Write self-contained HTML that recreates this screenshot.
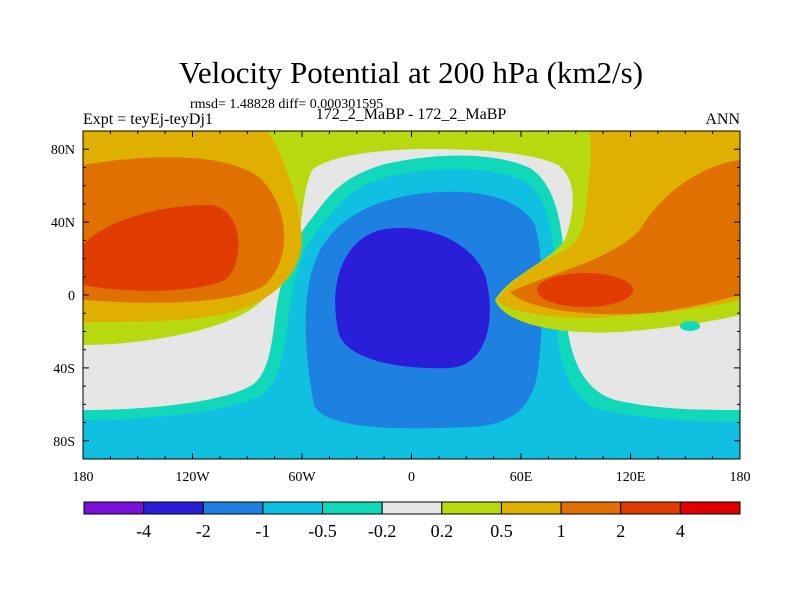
<!DOCTYPE html>
<html><head><meta charset="utf-8"><style>
body{margin:0;background:#fff}
svg text{font-family:"Liberation Serif",serif;fill:#000}
</style></head><body>
<svg id="c" width="800" height="600" xmlns="http://www.w3.org/2000/svg">
<defs><clipPath id="pc"><rect x="83" y="131" width="657" height="328"/></clipPath></defs>
<text x="411" y="83" font-size="31" text-anchor="middle">Velocity Potential at 200 hPa (km2/s)</text>
<text x="190" y="108" font-size="14">rmsd= 1.48828 diff= 0.000301595</text>
<text x="83" y="124" font-size="16">Expt = teyEj-teyDj1</text>
<text x="411" y="119" font-size="16" text-anchor="middle">172_2_MaBP - 172_2_MaBP</text>
<text x="740" y="124" font-size="16" text-anchor="end">ANN</text>
<g clip-path="url(#pc)">
<rect x="83" y="131" width="657" height="328" fill="#10c0e0"/>
<path fill="#10d8b8" d="M83,420 C150,420 230,412 262,395 C285,380 285,330 292,295 C298,260 308,240 322,225 C340,205 350,185 395,175 C450,165 500,168 525,182 C550,197 555,240 555,290 C555,340 560,395 600,410 C650,420 700,422 740,422 L740,131 L83,131 Z"/>
<path fill="#e6e6e6" d="M83,410 C150,410 225,402 252,385 C275,370 272,320 280,290 C287,255 298,235 312,218 C328,198 338,178 385,164 C440,152 495,152 530,168 C557,185 565,230 565,290 C565,340 575,388 615,400 C660,410 700,410 740,410 L740,131 L83,131 Z"/>
<path fill="#1e80e0" d="M314,405 C302,340 302,285 320,250 C340,215 380,195 440,192 C480,190 520,198 535,225 C545,260 543,330 538,370 C533,405 515,425 470,427 C400,430 325,430 314,405 Z"/>
<path fill="#2a1ed8" d="M338,330 C328,280 345,240 380,230 C420,222 470,238 485,275 C495,310 492,365 450,368 C400,370 343,360 338,330 Z"/>
<path fill="#b8d810" d="M83,131 L83,345 C130,345 210,335 250,310 C280,290 290,265 298,240 C303,215 303,190 312,170 C330,155 380,150 420,149 C480,149 530,152 558,165 C578,180 575,210 565,240 C545,265 510,275 495,300 C505,325 560,335 620,332 C670,328 710,322 740,315 L740,131 Z"/>
<path fill="#e0b000" d="M83,131 L268,131 C285,160 300,200 302,240 C302,275 270,305 220,315 C170,323 120,322 83,322 Z"/>
<path fill="#e0b000" d="M590,131 L740,131 L740,300 C700,310 640,315 590,318 C540,318 505,310 497,300 C510,280 540,262 565,250 C590,238 585,200 590,170 C592,150 590,140 590,131 Z"/>
<path fill="#e07000" d="M83,165 C140,155 230,150 262,180 C290,210 292,260 265,285 C235,305 150,305 83,300 Z"/>
<path fill="#e07000" d="M740,160 C700,165 660,195 640,230 C610,260 560,270 510,292 C530,312 600,318 660,312 C700,306 720,300 740,295 Z"/>
<path fill="#e03c00" d="M83,245 C100,225 150,205 210,205 C245,208 245,265 225,280 C190,295 120,292 83,285 Z"/>
<ellipse cx="585" cy="290" rx="48" ry="17" fill="#e03c00"/>
<ellipse cx="690" cy="326" rx="10" ry="5" fill="#10d8b8"/>
</g>
<rect x="83" y="131" width="657" height="328" fill="none" stroke="#000" stroke-width="1"/>
<g id="axes"></g>
<g id="cbar"></g>
</svg>
<script>
const lonTicks=[-180,-120,-60,0,60,120,180];
const lonLabels=["180","120W","60W","0","60E","120E","180"];
const latTicks=[80,40,0,-40,-80];
const latLabels=["80N","40N","0","40S","80S"];
const levels=["-4","-2","-1","-0.5","-0.2","0.2","0.5","1","2","4"];
const colors=["#7a10d8","#2a1ed8","#1e80e0","#10c0e0","#10d8b8","#e6e6e6","#b8d810","#e0b000","#e07000","#e03c00","#e00000"];
const NS="http://www.w3.org/2000/svg";
const X0=83,X1=740,Y0=131,Y1=459;
const xs=l=>X0+(l+180)/360*(X1-X0), ys=l=>Y0+(90-l)/180*(Y1-Y0);
function mk(t,a,p){const e=document.createElementNS(NS,t);for(const k in a)e.setAttribute(k,a[k]);p.appendChild(e);return e;}
const ax=document.getElementById('axes');
for(let l=-180;l<=180;l+=15){const maj=l%60===0,len=maj?6:3;
const t1=mk('line',{x1:xs(l),x2:xs(l),y1:Y1,y2:Y1-len,stroke:'#000'},ax);


const t2=mk('line',{x1:xs(l),x2:xs(l),y1:Y0,y2:Y0+len,stroke:'#000'},ax);

}
for(let l=-90;l<=90;l+=10){const maj=l%40===0,len=maj?6:3;
const t1=mk('line',{x1:X0,x2:X0+len,y1:ys(l),y2:ys(l),stroke:'#000'},ax);


const t2=mk('line',{x1:X1,x2:X1-len,y1:ys(l),y2:ys(l),stroke:'#000'},ax);

}
lonTicks.forEach((l,i)=>{const t=mk('text',{x:xs(l),y:481,'font-size':14,'text-anchor':'middle'},ax);t.textContent=lonLabels[i];

});
latTicks.forEach((l,i)=>{const t=mk('text',{x:75,y:ys(l)+5,'font-size':14,'text-anchor':'end'},ax);t.textContent=latLabels[i];

});
const cb=document.getElementById('cbar');const cx0=84,cx1=740,w=(cx1-cx0)/colors.length;
colors.forEach((c,i)=>{const r=mk('rect',{x:cx0+i*w,y:502,width:w,height:12,fill:c,stroke:'#000','stroke-width':1},cb);

});
levels.forEach((v,i)=>{const t=mk('text',{x:cx0+(i+1)*w,y:537,'font-size':18,'text-anchor':'middle'},cb);t.textContent=v;

});
</script>
</body></html>
